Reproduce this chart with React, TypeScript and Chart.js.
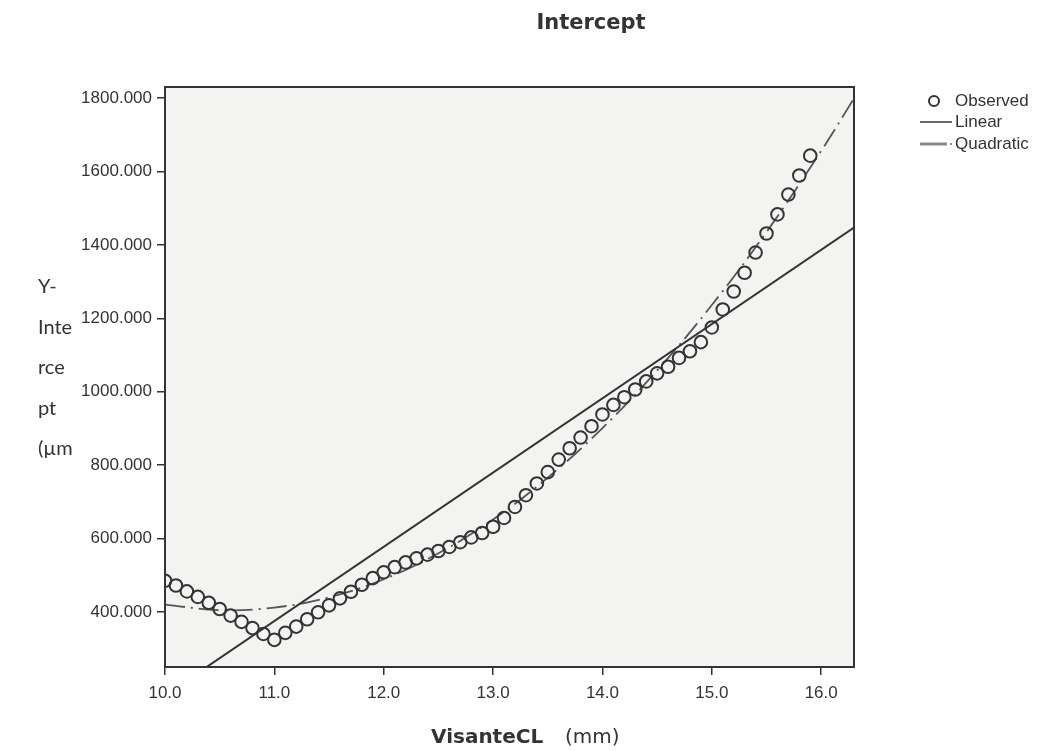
import { useEffect, useRef } from 'react';
import { Chart, registerables } from 'chart.js';

Chart.register(...registerables);

// ---- data ----
const obsX = [
  10.0, 10.1, 10.2, 10.3, 10.4, 10.5, 10.6, 10.7, 10.8, 10.9,
  11.0, 11.1, 11.2, 11.3, 11.4, 11.5, 11.6, 11.7, 11.8, 11.9,
  12.0, 12.1, 12.2, 12.3, 12.4, 12.5, 12.6, 12.7, 12.8, 12.9,
  13.0, 13.1, 13.2, 13.3, 13.4, 13.5, 13.6, 13.7, 13.8, 13.9,
  14.0, 14.1, 14.2, 14.3, 14.4, 14.5, 14.6, 14.7, 14.8, 14.9,
  15.0, 15.1, 15.2, 15.3, 15.4, 15.5, 15.6, 15.7, 15.8, 15.9,
];
const obsY = [
  485, 472, 456, 441, 425, 408, 390, 373, 356, 340,
  324, 343, 360, 380, 399, 418, 437, 455, 474, 492,
  508, 522, 535, 546, 556, 566, 577, 590, 603, 615,
  632, 656, 686, 718, 750, 781, 815, 846, 875, 906,
  938, 964, 985, 1006, 1028, 1050, 1068, 1092, 1110, 1135,
  1175, 1224, 1273, 1324, 1379, 1431, 1483, 1537, 1589, 1643,
];
const linearX = [10.0, 16.3];
const linearY = [173, 1447];
const quadX = [10.0, 10.5, 11.0, 11.5, 12.0, 12.5, 13.0, 13.5, 14.0, 14.5, 15.0, 15.5, 16.0, 16.3];
const quadY = [420, 405, 412, 440, 489, 560, 652, 766, 901, 1058, 1236, 1435, 1656, 1799];

const xTicks = [10, 11, 12, 13, 14, 15, 16];
const yTicks = [400, 600, 800, 1000, 1200, 1400, 1600, 1800];

const seriesNames = ['Observed', 'Linear', 'Quadratic'];
const chartTitle = 'Intercept';
const yTitleLines = ['Y-', 'Inte', 'rce', 'pt', '(µm'];
const xTitleMain = 'VisanteCL';
const xTitleUnit = '(mm)';

const INK = '#333333';
const QUAD = '#555555';
const QUAD_LEGEND = '#8a8a8a';
const TICK_FONT = '"Liberation Sans", Arial, sans-serif';

const toPts = (xs: number[], ys: number[]) => xs.map((x, i) => ({ x, y: ys[i] }));

const decor = {
  id: 'decor',
  beforeDraw(chart: any) {
    const { ctx, chartArea: a } = chart;
    ctx.save();
    ctx.fillStyle = '#ffffff';
    ctx.fillRect(0, 0, chart.width, chart.height);
    ctx.fillStyle = '#f3f3f2';
    ctx.fillRect(a.left, a.top, a.right - a.left, a.bottom - a.top);
    ctx.restore();
  },
  afterDraw(chart: any) {
    const { ctx, chartArea: a } = chart;
    ctx.save();
    // frame
    ctx.strokeStyle = INK;
    ctx.lineWidth = 2;
    ctx.strokeRect(a.left, a.top, a.right - a.left, a.bottom - a.top);

    // title
    ctx.fillStyle = INK;
    ctx.textBaseline = 'alphabetic';
    ctx.textAlign = 'center';
    ctx.font = 'bold 21px "DejaVu Sans", sans-serif';
    ctx.fillText(chartTitle, 591, 29);

    // x title
    ctx.textAlign = 'left';
    ctx.font = 'bold 20px "DejaVu Sans", sans-serif';
    ctx.fillText(xTitleMain, 431, 743);
    ctx.font = '20px "DejaVu Sans", sans-serif';
    ctx.fillText(xTitleUnit, 565, 743);

    // y title (wrapped, horizontal)
    ctx.font = '20px Lato, "Open Sans", sans-serif';
    yTitleLines.forEach((t, i) => ctx.fillText(t, 38, 293 + i * 40.5));

    // legend
    ctx.font = '17px ' + TICK_FONT;
    ctx.textBaseline = 'middle';
    const lx = 920, tx = 955;
    const rows = [101, 122, 144];
    // observed
    ctx.beginPath();
    ctx.arc(934, rows[0], 5, 0, Math.PI * 2);
    ctx.lineWidth = 2;
    ctx.strokeStyle = INK;
    ctx.stroke();
    ctx.fillText(seriesNames[0], tx, rows[0]);
    // linear
    ctx.beginPath();
    ctx.moveTo(lx, rows[1]);
    ctx.lineTo(lx + 32, rows[1]);
    ctx.lineWidth = 1.5;
    ctx.stroke();
    ctx.fillText(seriesNames[1], tx, rows[1]);
    // quadratic
    ctx.beginPath();
    ctx.moveTo(lx, rows[2]);
    ctx.lineTo(lx + 27, rows[2]);
    ctx.strokeStyle = QUAD_LEGEND;
    ctx.lineWidth = 3;
    ctx.stroke();
    ctx.fillStyle = QUAD_LEGEND;
    ctx.fillRect(lx + 30, rows[2] - 1, 2, 2);
    ctx.fillStyle = INK;
    ctx.fillText(seriesNames[2], tx, rows[2]);
    ctx.restore();
  },
};

export default function App() {
  const ref = useRef<HTMLCanvasElement>(null);
  useEffect(() => {
    const canvas = ref.current;
    if (!canvas) return;
    const chart = new Chart(canvas, {
      type: 'scatter',
      data: {
        datasets: [
          {
            label: seriesNames[0],
            data: toPts(obsX, obsY),
            showLine: false,
            pointRadius: 6.3,
            pointBorderWidth: 2,
            pointBackgroundColor: 'rgba(0,0,0,0)',
            pointBorderColor: INK,
            borderColor: INK,
            clip: 0,
          },
          {
            label: seriesNames[1],
            data: toPts(linearX, linearY),
            showLine: true,
            pointRadius: 0,
            borderColor: INK,
            borderWidth: 2,
            clip: 0,
          },
          {
            label: seriesNames[2],
            data: toPts(quadX, quadY),
            showLine: true,
            pointRadius: 0,
            borderColor: QUAD,
            borderWidth: 1.8,
            borderDash: [20, 6, 2, 6],
            tension: 0.4,
            clip: 0,
          },
        ],
      } as any,
      options: {
        responsive: false,
        animation: false,
        events: [],
        layout: { padding: { left: 0, right: 188, top: 87, bottom: 0 } },
        plugins: {
          legend: { display: false },
          title: { display: false },
          tooltip: { enabled: false },
        },
        scales: {
          x: {
            type: 'linear',
            min: 10,
            max: 16.3,
            afterFit: (s: any) => { s.height = 84; },
            afterBuildTicks: (s: any) => { s.ticks = xTicks.map((v) => ({ value: v })); },
            grid: { drawOnChartArea: false, drawTicks: true, tickLength: 8, color: INK, lineWidth: 1.5 },
            border: { display: false },
            ticks: {
              padding: 8,
              color: INK,
              font: { family: TICK_FONT, size: 17 },
              callback: (v: any) => Number(v).toFixed(1),
            },
          },
          y: {
            type: 'linear',
            min: 250,
            max: 1830,
            afterFit: (s: any) => { s.width = 165; },
            afterBuildTicks: (s: any) => { s.ticks = yTicks.map((v) => ({ value: v })); },
            grid: { drawOnChartArea: false, drawTicks: true, tickLength: 8, color: INK, lineWidth: 1.5 },
            border: { display: false },
            ticks: {
              padding: 5,
              color: INK,
              font: { family: TICK_FONT, size: 17 },
              callback: (v: any) => Number(v).toFixed(3),
            },
          },
        },
      } as any,
      plugins: [decor],
    });
    return () => chart.destroy();
  }, []);
  return (
    <div style={{ position: 'absolute', left: 0, top: 0, width: 1042, height: 751, background: '#fff' }}>
      <canvas ref={ref} width={1042} height={751} style={{ display: 'block', width: 1042, height: 751 }} />
    </div>
  );
}
